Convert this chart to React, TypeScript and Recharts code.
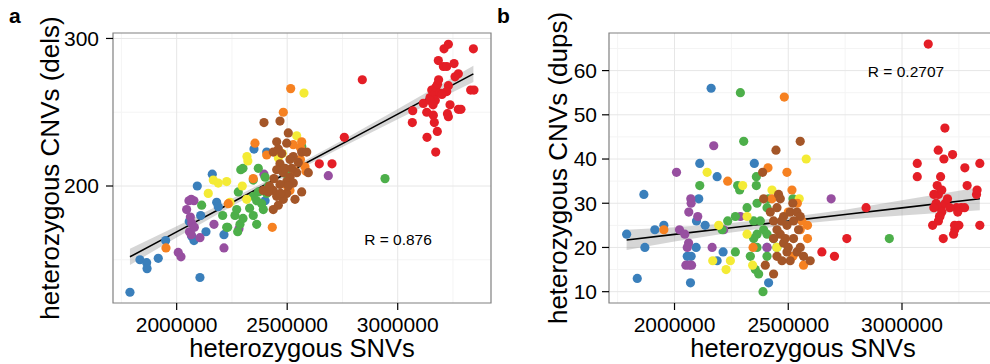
import { ComposedChart, Scatter, Line, Area, XAxis, YAxis, CartesianGrid, ReferenceArea } from "recharts";

type Pt = [number, number];

const colors = {
  red: "#E41E26",
  blue: "#3A7FBB",
  green: "#4DAF4A",
  purple: "#974FA0",
  orange: "#F68121",
  yellow: "#F4EB35",
  brown: "#A45628",
};

// panel a: heterozygous SNVs vs heterozygous deletions
const delsBlue: Pt[] = [
  [1788700, 128], [1833900, 150], [1864300, 148], [1866000, 144], [1916700, 151], [1950200, 163],
  [2105400, 138], [2093200, 200], [2161100, 208], [2181000, 189], [2188200, 186], [2108600, 180],
  [2057000, 176], [2067900, 166], [2078300, 163], [2132600, 169], [2214000, 167], [2349800, 225],
  [2407300, 223], [2400000, 190],
];
const delsPurple: Pt[] = [
  [2055600, 190], [2066000, 191], [2078300, 190], [2045200, 184], [2062000, 179], [2068000, 175],
  [2058000, 169], [2066000, 167], [2105400, 165], [2007200, 155], [2019500, 152], [2168800, 174],
  [2214000, 158], [2281900, 171], [2395000, 208], [2686000, 207], [2080000, 172],
];
const delsGreen: Pt[] = [
  [2942600, 205], [2290000, 211], [2300000, 212], [2369300, 212], [2346600, 204], [2278700, 196],
  [2208100, 180], [2263800, 180], [2230800, 172], [2276000, 169], [2113100, 187], [2346600, 193],
  [2362000, 190], [2384600, 188], [2392000, 184], [2346600, 180], [2362000, 174], [2271500, 184],
  [2226300, 172], [2286400, 174], [2407300, 195], [2414500, 200], [2497800, 208], [2565600, 227],
  [2330000, 185], [2300000, 178], [2370000, 196], [2400000, 206],
];
const delsYellow: Pt[] = [
  [2576000, 263], [2543000, 234], [2318000, 220], [2322000, 217], [2165600, 204], [2188200, 202],
  [2226300, 203], [2143000, 195], [2241200, 189], [2296800, 200], [2316700, 191], [2477800, 222],
  [2460000, 219],
];
const delsOrange: Pt[] = [
  [2515800, 266], [2482400, 250], [2354300, 229], [1951600, 158], [2432600, 172], [2233500, 188],
  [2527700, 228], [2565600, 230], [2560000, 226], [2580600, 213], [2585000, 210], [2535300, 210],
  [2512700, 197], [2346600, 205], [2407300, 221], [2500000, 200], [2560000, 218],
];
const delsBrown: Pt[] = [
  [2395000, 243], [2467400, 244], [2505000, 236], [2452500, 230], [2497800, 229], [2437000, 223],
  [2475100, 222], [2527600, 220], [2565600, 223], [2588300, 223], [2512700, 218], [2550300, 216],
  [2467400, 215], [2452500, 211], [2482400, 209], [2512700, 206], [2543000, 209], [2595500, 209],
  [2497800, 203], [2527600, 202], [2467400, 201], [2437000, 197], [2497800, 195], [2565600, 196],
  [2535300, 191], [2482400, 191], [2459800, 187], [2437000, 184], [2414500, 196], [2391900, 197],
  [2452500, 193], [2505000, 200], [2440000, 205], [2490000, 212], [2460000, 225], [2420000, 200],
  [2470000, 195], [2520000, 212],
];
const delsRed: Pt[] = [
  [2839800, 272], [2758400, 233], [2645300, 215], [2702700, 215], [3067900, 251], [3066100, 243],
  [3115900, 256], [3131300, 250], [3132600, 233], [3171900, 223], [3179100, 237], [3165600, 243],
  [3161200, 248], [3146100, 260], [3153900, 265], [3165000, 262], [3172000, 267], [3180000, 269],
  [3190000, 263], [3170000, 258], [3146000, 258], [3183800, 285], [3206600, 281], [3221700, 281],
  [3254800, 283], [3209500, 293], [3229200, 296], [3342300, 293], [3274300, 276], [3259300, 274],
  [3229200, 268], [3221700, 264], [3236700, 255], [3229200, 247], [3225000, 249], [3274300, 252],
  [3286000, 252], [3330000, 265], [3345000, 265], [3185000, 272], [3160000, 255], [3200000, 262],
];

// panel b: heterozygous SNVs vs heterozygous duplications
const dupsBlue: Pt[] = [
  [2161000, 56], [1865300, 32], [1789500, 23], [1869700, 20], [1836300, 13], [1913600, 24],
  [1953100, 25], [2111000, 39], [2187300, 36], [2106600, 31], [2096500, 26], [2134600, 25],
  [2095000, 20], [2073000, 18], [2056000, 18], [2070200, 12], [2187300, 17], [2213600, 19],
  [2350900, 39], [2413600, 12], [2406600, 20],
];
const dupsPurple: Pt[] = [
  [2008800, 37], [2172400, 43], [2071500, 31], [2073000, 30], [2062700, 28], [2102200, 27],
  [2021900, 24], [2045200, 23], [2062000, 21], [2056000, 20], [2165400, 20], [2050000, 16],
  [2075000, 16], [2065000, 16], [2216200, 24], [2406600, 20], [2688600, 31], [2289500, 27],
];
const dupsGreen: Pt[] = [
  [2289500, 55], [2304200, 44], [2111000, 34], [2277600, 34], [2286400, 33], [2359700, 36],
  [2359700, 34], [2209200, 24], [2233800, 26], [2267500, 27], [2267500, 19], [2318900, 29],
  [2362700, 30], [2406600, 29], [2413900, 31], [2347900, 26], [2377200, 26], [2362700, 23],
  [2391700, 24], [2347900, 22], [2435500, 22], [2406600, 23], [2362700, 20], [2333300, 18],
  [2406600, 18], [2355300, 15], [2369900, 14], [2389000, 10], [2520600, 31], [2944300, 22],
  [2450000, 20],
];
const dupsYellow: Pt[] = [
  [2578900, 40], [2143400, 37], [2299600, 34], [2194300, 25], [2318900, 27], [2318900, 23],
  [2168000, 17], [2245600, 17], [2226700, 15], [2428500, 33], [2548200, 31], [2343400, 16],
  [2450000, 20],
];
const dupsOrange: Pt[] = [
  [2482500, 54], [2494300, 37], [2411000, 38], [2233800, 35], [1953100, 24], [2516300, 33],
  [2584700, 25], [2584700, 22], [2567100, 16], [2520600, 18], [2345200, 20], [2428500, 31],
  [2552600, 24], [2500000, 28], [2560000, 26], [2540000, 30],
];
const dupsBrown: Pt[] = [
  [2446000, 42], [2552600, 44], [2387300, 37], [2457500, 32], [2391700, 31], [2399000, 16],
  [2435500, 14], [2421100, 28], [2450400, 29], [2465000, 31], [2479400, 27], [2494300, 25],
  [2508600, 28], [2523200, 26], [2538200, 28], [2552600, 27], [2545200, 24], [2464900, 23],
  [2435500, 22], [2479400, 21], [2494300, 19], [2450400, 18], [2472400, 17], [2508600, 17],
  [2538200, 19], [2552600, 20], [2567100, 18], [2596500, 17], [2523200, 22], [2450400, 24],
  [2486900, 22], [2435500, 26], [2470000, 26], [2500000, 20], [2520000, 30],
];
const dupsRed: Pt[] = [
  [3115400, 66], [3188600, 47], [3159300, 42], [3222400, 41], [3184200, 40], [3067100, 39],
  [3342100, 39], [3067100, 36], [3169700, 36], [3276300, 38], [3286400, 34], [3154800, 34],
  [3327600, 32], [3140000, 32], [3160000, 32], [3175000, 33], [3150000, 30], [3170000, 29],
  [3165000, 27], [3140000, 29], [3175000, 28], [3342100, 25], [3134600, 25], [3181400, 22],
  [3226800, 23], [3232000, 24], [3231200, 25], [3250000, 25], [3166700, 27], [3160000, 26],
  [3240000, 29], [3260000, 29], [3275000, 29], [3245000, 28], [3190000, 30], [2842100, 29],
  [2757400, 22], [2647800, 19], [2703100, 18], [3200000, 31], [3330000, 33], [3210000, 29],
];

// fitted lines and confidence band half-widths
const delsFitX = [1788700, 2000000, 2250000, 2500000, 2750000, 3000000, 3342300];
const delsFitY = [152, 168.9, 188.8, 208.8, 228.7, 248.7, 276];
const delsFitSe = [5.5, 3.8, 2.5, 1.9, 2.3, 3.5, 5.5];

const dupsFitX = [1789500, 2000000, 2250000, 2500000, 2750000, 3000000, 3342100];
const dupsFitY = [21.7, 22.96, 24.46, 25.96, 27.45, 28.95, 31.0];
const dupsFitSe = [2.3, 1.6, 1.1, 0.9, 1.1, 1.7, 2.6];

const xTicks = [2000000, 2500000, 3000000];
const xMinor = [1750000, 2250000, 2750000, 3250000];
const xDomain: [number, number] = [1712000, 3422000];

const font = "'Liberation Sans', Arial, Helvetica, sans-serif";

type Group = { color: string; pts: Pt[] };

function bandRows(xs: number[], ys: number[], se: number[]) {
  return xs.map((x, i) => ({ x, fit: ys[i], band: [ys[i] - se[i], ys[i] + se[i]] }));
}

interface PanelProps {
  groups: Group[];
  rows: { x: number; fit: number; band: number[] }[];
  yDomain: [number, number];
  yTicks: number[];
  yMinor: number[];
  width: number;
  yAxisWidth: number;
  marginRight: number;
  tickMarginY: number;
}

function Panel({ groups, rows, yDomain, yTicks, yMinor, width, yAxisWidth, marginRight, tickMarginY }: PanelProps) {
  const tickStyle = { fill: "#000", fontSize: 21, fontFamily: font };
  return (
    <ComposedChart
      width={width}
      height={364}
      data={rows}
      margin={{ top: 33, right: marginRight, bottom: 0, left: 0 }}
    >
      <CartesianGrid
        horizontalValues={yMinor}
        verticalValues={xMinor}
        stroke="#F4F4F4"
        strokeWidth={1}
      />
      <CartesianGrid
        horizontalValues={yTicks}
        verticalValues={xTicks}
        stroke="#E6E6E6"
        strokeWidth={1}
      />
      <XAxis
        type="number"
        dataKey="x"
        domain={xDomain}
        ticks={xTicks}
        allowDataOverflow
        height={61}
        axisLine={false}
        tickLine={{ stroke: "#000", strokeWidth: 1.2 }}
        tickSize={7}
        tickMargin={7}
        tick={tickStyle}
        interval={0}
      />
      <YAxis
        type="number"
        domain={yDomain}
        ticks={yTicks}
        allowDataOverflow
        width={yAxisWidth}
        axisLine={false}
        tickLine={{ stroke: "#000", strokeWidth: 1.2 }}
        tickSize={7}
        tickMargin={tickMarginY}
        tick={tickStyle}
        interval={0}
      />
      <Area
        dataKey="band"
        stroke="none"
        fill="#999999"
        fillOpacity={0.4}
        isAnimationActive={false}
      />
      <Line dataKey="fit" stroke="#000" strokeWidth={1.6} dot={false} isAnimationActive={false} />
      {groups.map((g, i) => (
        <Scatter
          key={i}
          data={g.pts.map(([x, y]) => ({ x, y }))}
          dataKey="y"
          isAnimationActive={false}
          shape={(p: any) => <circle cx={p.cx} cy={p.cy} r={4.6} fill={g.color} />}
        />
      ))}
      <ReferenceArea
        x1={xDomain[0]}
        x2={xDomain[1]}
        y1={yDomain[0]}
        y2={yDomain[1]}
        fill="none"
        stroke="#808080"
        strokeWidth={1.2}
      />
    </ComposedChart>
  );
}

export default function App() {
  const delsGroups: Group[] = [
    { color: colors.blue, pts: delsBlue },
    { color: colors.purple, pts: delsPurple },
    { color: colors.green, pts: delsGreen },
    { color: colors.yellow, pts: delsYellow },
    { color: colors.orange, pts: delsOrange },
    { color: colors.brown, pts: delsBrown },
    { color: colors.red, pts: delsRed },
  ];
  const dupsGroups: Group[] = [
    { color: colors.blue, pts: dupsBlue },
    { color: colors.purple, pts: dupsPurple },
    { color: colors.green, pts: dupsGreen },
    { color: colors.yellow, pts: dupsYellow },
    { color: colors.orange, pts: dupsOrange },
    { color: colors.brown, pts: dupsBrown },
    { color: colors.red, pts: dupsRed },
  ];

  return (
    <div
      style={{
        position: "absolute",
        left: 0,
        top: 0,
        width: 990,
        height: 364,
        overflow: "hidden",
        background: "#fff",
        fontFamily: font,
      }}
    >
      <div style={{ position: "absolute", left: 0, top: 0 }}>
        <Panel
          groups={delsGroups}
          rows={bandRows(delsFitX, delsFitY, delsFitSe)}
          yDomain={[120.7, 303.7]}
          yTicks={[200, 300]}
          yMinor={[150, 250]}
          width={495}
          yAxisWidth={113}
          marginRight={4}
          tickMarginY={7}
        />
      </div>
      <div style={{ position: "absolute", left: 500, top: 0 }}>
        <Panel
          groups={dupsGroups}
          rows={bandRows(dupsFitX, dupsFitY, dupsFitSe)}
          yDomain={[7.44, 68.5]}
          yTicks={[10, 20, 30, 40, 50, 60]}
          yMinor={[15, 25, 35, 45, 55, 65]}
          width={500}
          yAxisWidth={109}
          marginRight={2}
          tickMarginY={5}
        />
      </div>
      <svg
        width={990}
        height={364}
        style={{ position: "absolute", left: 0, top: 0, pointerEvents: "none" }}
        fontFamily={font}
      >
        <text x={9} y={23} fontSize={21} fontWeight="bold" fill="#000">a</text>
        <text x={497} y={23} fontSize={21} fontWeight="bold" fill="#000">b</text>
        <text transform="translate(59,168) rotate(-90)" textAnchor="middle" fontSize={26} fill="#000">
          heterozygous CNVs (dels)
        </text>
        <text transform="translate(567,168) rotate(-90)" textAnchor="middle" fontSize={26} fill="#000">
          heterozygous CNVs (dups)
        </text>
        <text x={302} y={357} textAnchor="middle" fontSize={25.5} fill="#000">heterozygous SNVs</text>
        <text x={803} y={357} textAnchor="middle" fontSize={25.5} fill="#000">heterozygous SNVs</text>
        <text x={398} y={245} textAnchor="middle" fontSize={15.5} fill="#000">R = 0.876</text>
        <text x={906} y={77} textAnchor="middle" fontSize={15.5} fill="#000">R = 0.2707</text>
      </svg>
    </div>
  );
}
